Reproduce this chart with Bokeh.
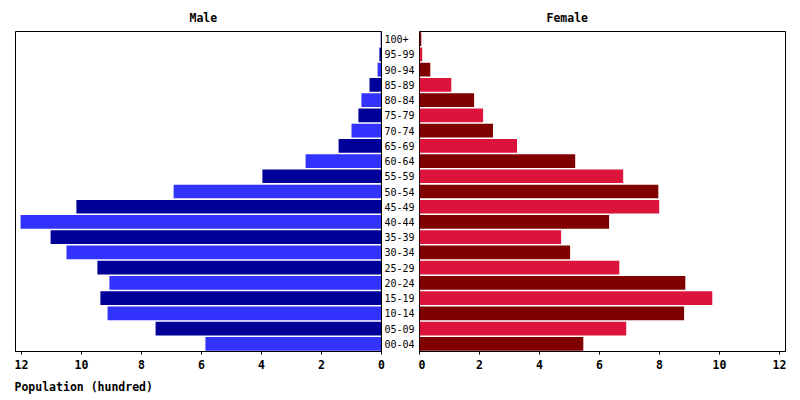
from bokeh.plotting import figure
from bokeh.models import Range1d, FactorRange, FixedTicker, Title, ColumnDataSource
from bokeh.layouts import row
from bokeh.embed import file_html
from bokeh.resources import INLINE

ages = ["00-04", "05-09", "10-14", "15-19", "20-24", "25-29", "30-34", "35-39",
        "40-44", "45-49", "50-54", "55-59", "60-64", "65-69", "70-74", "75-79",
        "80-84", "85-89", "90-94", "95-99", "100+"]
male = [5.87, 7.53, 9.13, 9.37, 9.07, 9.47, 10.5, 11.03, 12.03, 10.17, 6.93,
        3.97, 2.53, 1.43, 1.0, 0.77, 0.67, 0.4, 0.13, 0.07, 0.03]
female = [5.46, 6.89, 8.82, 9.76, 8.86, 6.66, 5.02, 4.72, 6.32, 7.99, 7.96,
          6.79, 5.19, 3.25, 2.45, 2.12, 1.82, 1.06, 0.36, 0.09, 0.06]
male_colors = ["#3333FF", "#000099"]
female_colors = ["#800000", "#DC143C"]
ticks = [0, 2, 4, 6, 8, 10, 12]

mc = [male_colors[i % 2] for i in range(len(ages))]
fc = [female_colors[i % 2] for i in range(len(ages))]
src = ColumnDataSource(dict(age=ages, male=male, female=female, mc=mc, fc=fc))

MONO = "DejaVu Sans Mono"
FW, FH = 366, 320
TOP, BOT = 31, 48


def style(p):
    p.outline_line_color = "black"
    p.outline_line_width = 1
    p.xgrid.visible = False
    p.ygrid.visible = False
    p.background_fill_color = "white"
    p.border_fill_color = "white"
    ax = p.xaxis[0]
    ax.ticker = FixedTicker(ticks=ticks)
    ax.major_label_text_font = MONO
    ax.major_label_text_font_style = "bold"
    ax.major_label_text_font_size = "11.5px"
    ax.major_label_text_color = "black"
    ax.major_label_text_align = "right"
    ax.major_tick_out = 3
    ax.major_tick_in = 0
    ax.major_tick_line_color = "black"
    ax.minor_tick_line_color = None
    ax.axis_line_color = "black"
    ax.major_label_standoff = 5


def title(text, offset, standoff):
    return Title(text=text, align="left", offset=offset, standoff=standoff,
                 text_font=MONO, text_font_style="bold",
                 text_font_size="11.5px", text_color="black")


p1 = figure(frame_width=FW, frame_height=FH, output_backend="svg",
            toolbar_location=None,
            x_range=Range1d(12.2, 0), y_range=FactorRange(*ages, range_padding=0),
            y_axis_location="right", min_border_left=15, min_border_right=37,
            min_border_top=TOP, min_border_bottom=BOT)
p1.hbar(y="age", right="male", left=0, height=0.9, fill_color="mc",
        line_color=None, source=src)
style(p1)
ya = p1.yaxis[0]
ya.major_tick_line_color = None
ya.major_tick_out = 0
ya.major_tick_in = 0
ya.minor_tick_line_color = None
ya.axis_line_color = "black"
ya.major_label_standoff = 3
ya.major_label_text_font = MONO
ya.major_label_text_font_size = "10px"
ya.major_label_text_color = "black"

p1.add_layout(title("Male", 174, 13), "above")
p1.add_layout(title("Population (hundred)", -1, 12), "below")

p2 = figure(frame_width=FW, frame_height=FH, output_backend="svg",
            toolbar_location=None,
            x_range=Range1d(0, 12.2), y_range=FactorRange(*ages, range_padding=0),
            min_border_left=1, min_border_right=14,
            min_border_top=TOP, min_border_bottom=BOT)
p2.hbar(y="age", right="female", left=0, height=0.9, fill_color="fc",
        line_color=None, source=src)
style(p2)
p2.yaxis.visible = False
p2.add_layout(title("Female", 127, 13), "above")

layout = row(p1, p2)
open("out.html", "w").write(file_html(layout, INLINE))
